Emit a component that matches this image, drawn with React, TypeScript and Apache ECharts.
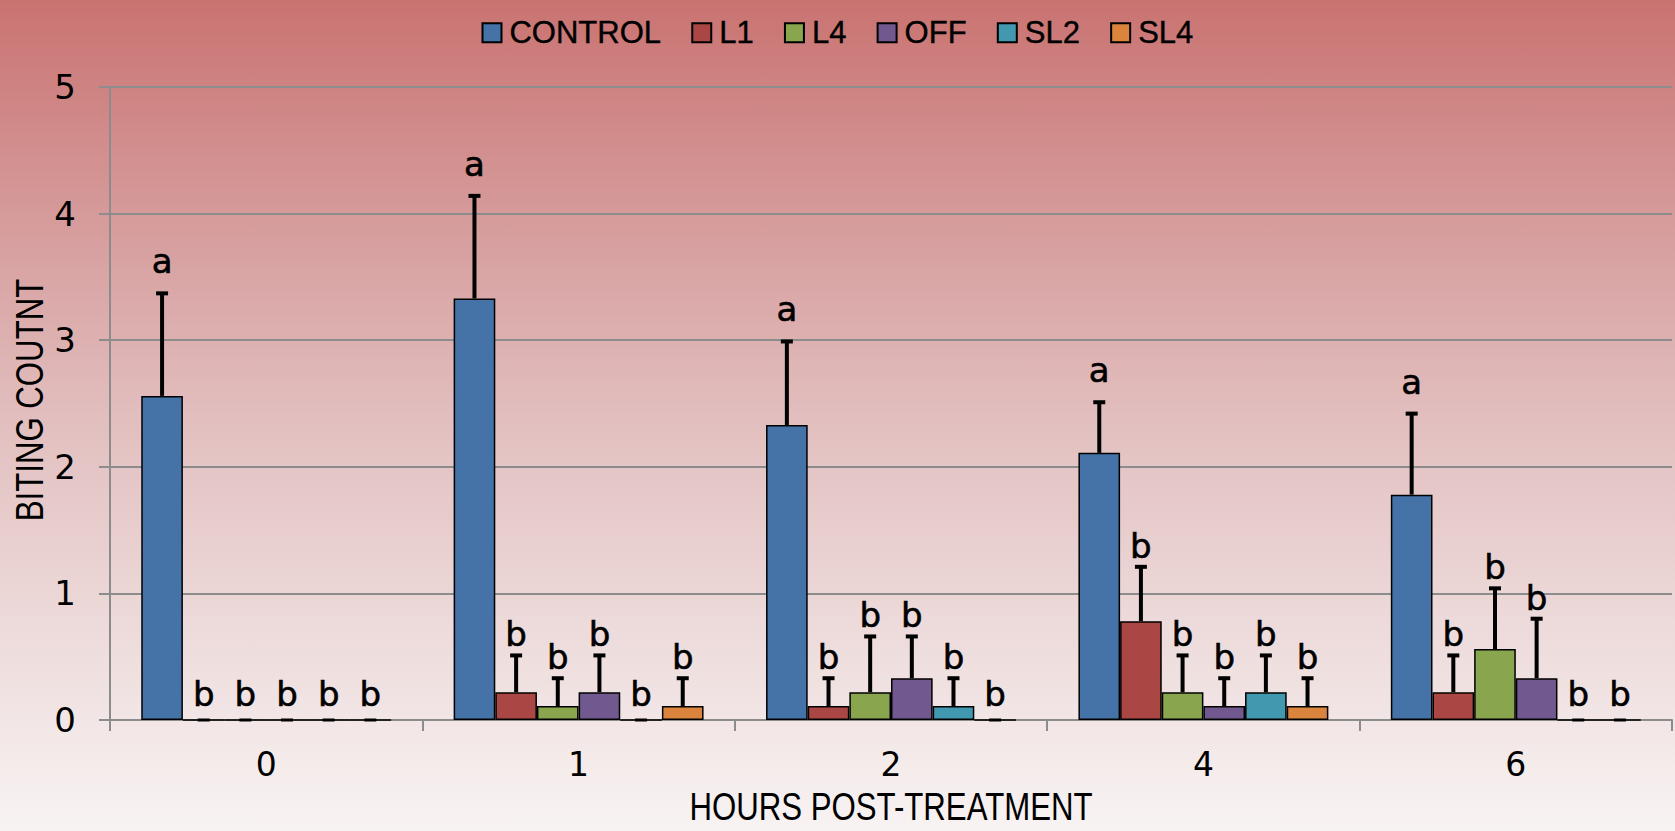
import React, { useEffect, useRef } from "react";
import * as echarts from "echarts";

const categories = ["0", "1", "2", "4", "6"];
const seriesNames = ["CONTROL", "L1", "L4", "OFF", "SL2", "SL4"];
const colors = ["#4572A7", "#AA4643", "#89A54E", "#71588F", "#4198AF", "#DB843D"];

const controlValues = [2.56, 3.33, 2.33, 2.11, 1.78];
const l1Values = [0, 0.22, 0.11, 0.78, 0.22];
const l4Values = [0, 0.11, 0.22, 0.22, 0.56];
const offValues = [0, 0.22, 0.33, 0.11, 0.33];
const sl2Values = [0, 0, 0.11, 0.22, 0];
const sl4Values = [0, 0.11, 0, 0.11, 0];

const controlErr = [0.81, 0.81, 0.66, 0.4, 0.64];
const l1Err = [0, 0.29, 0.22, 0.43, 0.29];
const l4Err = [0, 0.22, 0.44, 0.29, 0.48];
const offErr = [0, 0.29, 0.33, 0.22, 0.47];
const sl2Err = [0, 0, 0.22, 0.29, 0];
const sl4Err = [0, 0.22, 0, 0.22, 0];

const controlLetters = ["a", "a", "a", "a", "a"];
const l1Letters = ["b", "b", "b", "b", "b"];
const l4Letters = ["b", "b", "b", "b", "b"];
const offLetters = ["b", "b", "b", "b", "b"];
const sl2Letters = ["b", "b", "b", "b", "b"];
const sl4Letters = ["b", "b", "b", "b", "b"];

const yTicks = [0, 1, 2, 3, 4, 5];
const xTitle = "HOURS POST-TREATMENT";
const yTitle = "BITING COUTNT";

const allValues = [controlValues, l1Values, l4Values, offValues, sl2Values, sl4Values];
const allErr = [controlErr, l1Err, l4Err, offErr, sl2Err, sl4Err];
const allLetters = [controlLetters, l1Letters, l4Letters, offLetters, sl2Letters, sl4Letters];

const GAP_RATIO = 0.2;
const N = seriesNames.length;

export default function App() {
  const ref = useRef<HTMLDivElement>(null);
  useEffect(() => {
    if (!ref.current) return;
    const chart = echarts.init(ref.current, null, { renderer: "svg" });

    const errData: any[] = [];
    allValues.forEach((vals, s) => {
      vals.forEach((v, c) => {
        errData.push([c, v, allErr[s][c], s, allLetters[s][c]]);
      });
    });

    const barSeries = seriesNames.map((name, i) => ({
      name,
      type: "bar",
      data: allValues[i],
      barGap: "0%",
      barCategoryGap: "20%",
      itemStyle: { color: colors[i], borderColor: "#000", borderWidth: 1.5 },
      z: 2,
    }));

    const option: any = {
      animation: false,
      backgroundColor: "transparent",
      legend: {
        top: 12,
        left: "center",
        itemWidth: 19,
        itemHeight: 19,
        itemGap: 30,
        icon: "rect",
        data: seriesNames,
        textStyle: {
          fontFamily: "Liberation Sans",
          fontSize: 31,
          color: "#000",
          padding: [0, 0, 0, 3],
          textBorderColor: "#000",
          textBorderWidth: 0.4,
        },
      },
      grid: { left: 110, right: 3, top: 87, bottom: 111, containLabel: false },
      xAxis: {
        type: "category",
        data: categories,
        axisLine: { lineStyle: { color: "#8C8C8C", width: 2 } },
        axisTick: { show: true, length: 11, lineStyle: { color: "#8C8C8C", width: 2 } },
        axisLabel: {
          fontFamily: "DejaVu Sans",
          fontSize: 33,
          color: "#000",
          margin: 28,
        },
      },
      yAxis: {
        type: "value",
        min: 0,
        max: 5,
        interval: 1,
        axisLine: { show: true, lineStyle: { color: "#8C8C8C", width: 2 } },
        axisTick: { show: true, length: 11, lineStyle: { color: "#8C8C8C", width: 2 } },
        splitLine: { show: true, lineStyle: { color: "#8C8C8C", width: 2 } },
        axisLabel: {
          fontFamily: "DejaVu Sans",
          fontSize: 34,
          color: "#000",
          margin: 34,
          formatter: (v: number) => (yTicks.includes(v) ? String(v) : ""),
        },
      },
      graphic: [
        {
          type: "text",
          x: 891,
          y: 806,
          scaleX: 0.8,
          style: {
            text: xTitle,
            fontFamily: "Liberation Sans",
            fontSize: 39,
            fill: "#000",
            align: "center",
            verticalAlign: "middle",
          },
        },
        {
          type: "text",
          x: 29,
          y: 400,
          rotation: Math.PI / 2,
          scaleX: 0.8,
          style: {
            text: yTitle,
            fontFamily: "Liberation Sans",
            fontSize: 39,
            fill: "#000",
            align: "center",
            verticalAlign: "middle",
          },
        },
      ],
      series: [
        ...barSeries,
        {
          type: "custom",
          name: "errors",
          data: errData,
          encode: { x: 0, y: 1 },
          z: 5,
          clip: false,
          renderItem: (params: any, api: any) => {
            const c = api.value(0);
            const v = api.value(1);
            const e = api.value(2);
            const s = api.value(3);
            const letter = errData[params.dataIndex][4];
            const band = api.size([1, 0])[0];
            const bw = (band * (1 - GAP_RATIO)) / N;
            const center = api.coord([c, 0]);
            const x = center[0] + (s - (N - 1) / 2) * bw;
            const base = api.coord([c, v])[1];
            const top = api.coord([c, v + e])[1];
            const children: any[] = [];
            if (e > 0) {
              children.push({
                type: "line",
                shape: { x1: x, y1: base, x2: x, y2: top },
                style: { stroke: "#000", lineWidth: 4 },
              });
              children.push({
                type: "rect",
                shape: { x: x - 6, y: top - 2, width: 12, height: 4 },
                style: { fill: "#000" },
              });
            } else {
              children.push({
                type: "rect",
                shape: { x: x - 6, y: top - 1.5, width: 12, height: 3 },
                style: { fill: "#000" },
              });
            }
            const gap = letter === "a" ? 15 : v === 0 ? 9 : 4;
            children.push({
              type: "text",
              x: x,
              y: top - gap,
              style: {
                text: letter,
                fontFamily: "DejaVu Sans",
                fontSize: 34,
                fill: "#000",
                stroke: "#000",
                lineWidth: 0.6,
                align: "center",
                verticalAlign: "bottom",
              },
            });
            return { type: "group", children };
          },
        },
      ],
    };
    chart.setOption(option);
    return () => chart.dispose();
  }, []);

  return (
    <div
      ref={ref}
      style={{
        position: "absolute",
        left: 0,
        top: 0,
        width: 1675,
        height: 831,
        background:
          "linear-gradient(to bottom, #C97371 0%, #D59999 25%, #E2BEBE 50%, #EDDADA 75%, #F8F3F3 100%)",
      }}
    />
  );
}
